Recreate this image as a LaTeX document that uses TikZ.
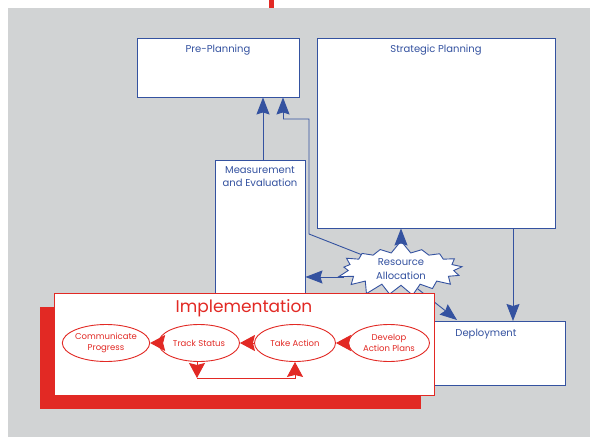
\documentclass[tikz,border=0pt]{standalone}
\usepackage{fontspec}
\setmainfont{Poppins}
\usetikzlibrary{arrows.meta,shapes.symbols,shapes.geometric}
\definecolor{bggray}{RGB}{209,211,212}
\definecolor{navy}{RGB}{52,82,160}
\definecolor{impred}{RGB}{226,41,36}
\tikzset{
  planbox/.style={draw=navy, fill=white, line width=0.9pt, inner sep=0pt},
  plantext/.style={text=navy, font=\fontsize{10}{13}\selectfont, align=center},
  bluearrow/.style={draw=navy, line width=0.9pt,
    -{Stealth[length=17pt,width=13pt,inset=2pt,fill=navy]}},
  blueline/.style={draw=navy, line width=0.9pt},
  step oval/.style={ellipse, draw=impred, fill=white, line width=0.9pt,
    minimum width=81pt, minimum height=37pt, inner sep=0pt,
    text=impred, font=\fontsize{8.5}{10.5}\selectfont, align=center},
  redarrow/.style={draw=impred, line width=0.9pt,
    -{Stealth[length=15pt,width=16pt,inset=2pt,fill=impred]}}
}

\begin{document}
\begin{tikzpicture}[x=1pt,y=-1pt]
\useasboundingbox (0,0) rectangle (590,437);

% background
\fill[bggray] (8,8) rectangle (590,437);
\fill[impred] (269,0) rectangle (274,8);

% planning boxes
\node[planbox, minimum width=162pt, minimum height=59pt] (pre) at (218,67.5) {};
\node[plantext, below=4pt] (preText) at (pre.north) {Pre-Planning};
\node[planbox, minimum width=238pt, minimum height=190pt] (strat) at (436,133) {};
\node[plantext, below=4pt] (stratText) at (strat.north) {Strategic Planning};
\node[planbox, minimum width=90pt, minimum height=140pt] (meas) at (260,230) {};
\node[plantext, below=3pt] (measText) at (meas.north) {Measurement\\and Evaluation};

% resource allocation
\node[starburst, draw=navy, fill=white, line width=0.9pt, starburst points=17,
  starburst point height=13pt, random starburst=7, inner sep=1pt,
  minimum width=132pt, minimum height=50pt, text=navy,
  font=\fontsize{10}{14}\selectfont, align=center] (res) at (401,269)
  {Resource\\Allocation};

% connectors
\coordinate (fbTop) at (283,119);
\coordinate (fbCorner) at (309,119);
\coordinate (fbLow) at (309,234);
\coordinate (stratOut) at (513,228);
\coordinate (depIn) at (513,321);
\coordinate (depCorner) at (457,320);
\draw[bluearrow] ([xshift=3pt]meas.north) -- ([xshift=3pt]meas.north |- pre.south);
\draw[blueline] (res.160) -- (fbLow) -- (fbCorner) -- (fbTop);
\draw[bluearrow] (fbTop) -- (fbTop |- pre.south);
\draw[bluearrow] (res.north) -- (res.north |- strat.south);
\draw[bluearrow] (res.188) -- (res.188 -| meas.east);
\draw[bluearrow] (res.-50) -- (depCorner);
\draw[bluearrow] (stratOut) -- (depIn);

% deployment
\node[planbox, minimum width=158pt, minimum height=64pt] (dep) at (486,353) {};
\node[plantext, below=5pt] (depText) at (dep.north) {Deployment};

% implementation
\fill[impred] (40,307) rectangle (421,409);
\node[draw=impred, fill=white, line width=0.9pt, inner sep=0pt,
  minimum width=380pt, minimum height=102pt] (impl) at (244,344) {};
\node[text=impred, font=\fontsize{17}{20}\selectfont, below=3pt] (implText)
  at (impl.north) {Implementation};

\node[step oval] (comm) at (106,343) {Communicate\\Progress};
\node[step oval] (track) at (199,343) {Track Status};
\node[step oval] (take) at (295,343) {Take Action};
\node[step oval] (dev) at (389,343) {Develop\\Action Plans};

\draw[redarrow] (dev) -- (take);
\draw[redarrow] (take) -- (track);
\draw[redarrow] (track) -- (comm);
\coordinate (loopLeft) at (197,378);
\draw[redarrow] (loopLeft |- track.south) -- (loopLeft);
\draw[redarrow] (loopLeft) -| (take.south);

\end{tikzpicture}
\end{document}
